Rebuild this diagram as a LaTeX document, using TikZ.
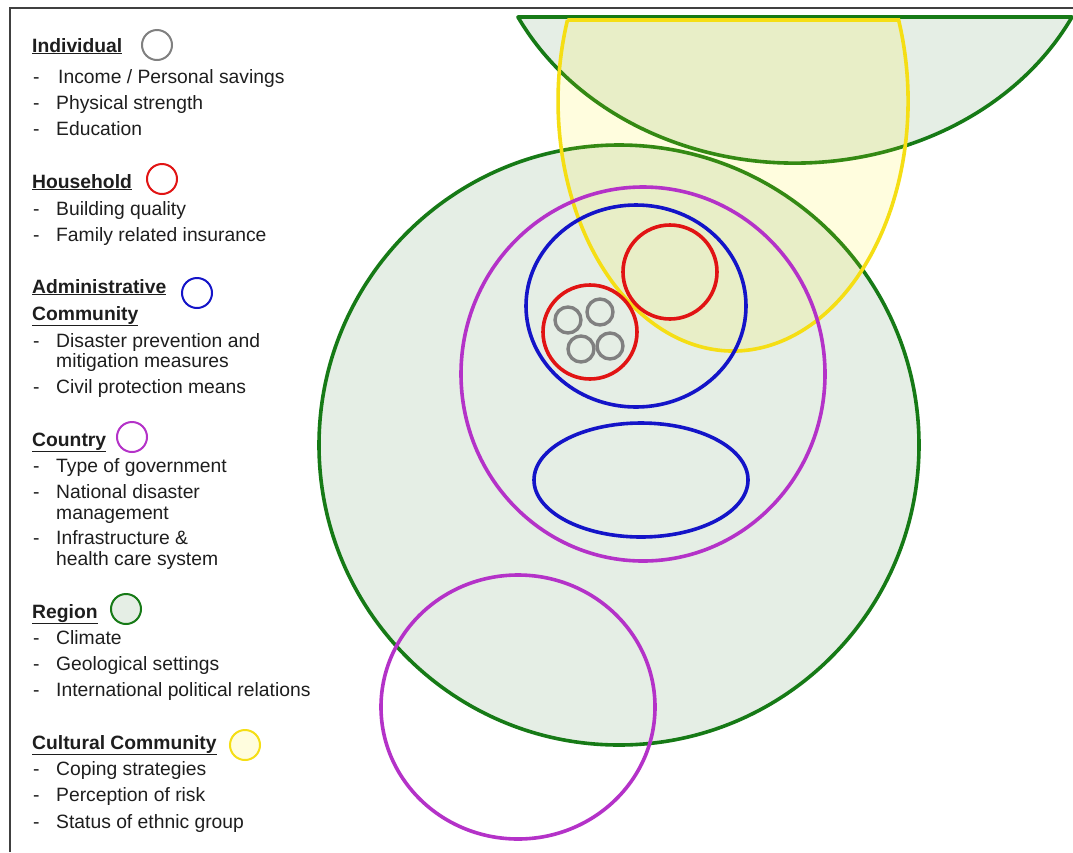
\documentclass[tikz,border=0pt]{standalone}
\usepackage{fontspec}
\setmainfont{Liberation Sans}
\definecolor{gstroke}{RGB}{22,122,22}
\definecolor{gfill}{RGB}{229,238,229}
\definecolor{ystroke}{RGB}{245,222,20}
\definecolor{yfill}{RGB}{255,240,0}
\definecolor{pur}{RGB}{180,50,200}
\definecolor{blu}{RGB}{20,20,200}
\definecolor{rd}{RGB}{225,20,20}
\definecolor{gry}{RGB}{128,128,128}
\definecolor{txt}{RGB}{30,30,30}
\tikzset{
  hdr/.style={anchor=base west, inner sep=0pt, font=\fontsize{19.3}{21}\selectfont\bfseries, text=txt},
  itm/.style={anchor=base west, inner sep=0pt, font=\fontsize{19.3}{21}\selectfont, text=txt},
  dsh/.style={anchor=base west, inner sep=0pt, font=\fontsize{19.3}{21}\selectfont, text=txt},
  ring/.style={line width=3.6pt},
  lring/.style={line width=2pt},
  indiv/.style={gry, line width=3.4pt},
}
\begin{document}
\begin{tikzpicture}[x=1pt,y=-1pt]
\useasboundingbox (0,0) rectangle (1073,852);
\fill[white] (0,0) rectangle (1073,852);
% frame
\draw[line width=1.6pt, black!75] (10,852) -- (10,8) -- (1073,8);
% big green circle (region)
\draw[ring, gstroke, fill=gfill] (619,445) circle (300);
% top green region (cut ellipse)
\draw[ring, gstroke, fill=gfill, line join=round] (518,17) -- (1072,17) arc[start angle=26.4, end angle=153.6, x radius=309.3, y radius=263] -- cycle;
% yellow cultural community
\draw[ring, ystroke, fill=yfill, fill opacity=0.13] (567.4,20) -- (898.6,20) arc[start angle=-18.9, end angle=198.9, x radius=175, y radius=250] -- cycle;
% purple country
\draw[ring, pur] (643,374) ellipse[x radius=182, y radius=187];
\draw[ring, pur] (518,707) ellipse[x radius=137, y radius=132];
% blue administrative communities
\draw[ring, blu] (636,306) ellipse[x radius=110, y radius=101];
\draw[ring, blu] (641,480) ellipse[x radius=107, y radius=57];
% red households
\draw[ring, rd] (670,272) circle (47);
\draw[ring, rd] (590,332) circle (47);
% gray individuals
\draw[indiv] (568,320) circle (13);
\draw[indiv] (600,312) circle (13);
\draw[indiv] (581,349) circle (13);
\draw[indiv] (610,346) circle (13);

% legend
\node[hdr] (h1) at (32,52) {\underline{Individual}};
\draw[lring, gry] (157,45) circle (15);
\node[dsh] (d1a) at (33,83) {-};
\node[itm] (i1a) at (58,83) {Income / Personal savings};
\node[dsh] (d1b) at (33,109) {-};
\node[itm] (i1b) at (56,109) {Physical strength};
\node[dsh] (d1c) at (33,135) {-};
\node[itm] (i1c) at (56,135) {Education};

\node[hdr] (h2) at (32,188) {\underline{Household}};
\draw[lring, rd] (162,179) circle (15);
\node[dsh] (d2a) at (33,215) {-};
\node[itm] (i2a) at (56,215) {Building quality};
\node[dsh] (d2b) at (33,241) {-};
\node[itm] (i2b) at (56,241) {Family related insurance};

\node[hdr] (h3) at (32,293) {\underline{Administrative}};
\node[hdr] (h3b) at (32,320) {\underline{Community}};
\draw[lring, blu] (197,293) circle (15);
\node[dsh] (d3a) at (33,347) {-};
\node[itm] (i3a) at (56,347) {Disaster prevention and};
\node[itm] (i3b) at (56,367) {mitigation measures};
\node[dsh] (d3c) at (33,393) {-};
\node[itm] (i3c) at (56,393) {Civil protection means};

\node[hdr] (h4) at (32,446) {\underline{Country}};
\draw[lring, pur] (132,437) circle (15);
\node[dsh] (d4a) at (33,472) {-};
\node[itm] (i4a) at (56,472) {Type of government};
\node[dsh] (d4b) at (33,498) {-};
\node[itm] (i4b) at (56,498) {National disaster};
\node[itm] (i4c) at (56,519) {management};
\node[dsh] (d4d) at (33,544) {-};
\node[itm] (i4d) at (56,544) {Infrastructure \&};
\node[itm] (i4e) at (56,565) {health care system};

\node[hdr] (h5) at (32,618) {\underline{Region}};
\draw[lring, gstroke, fill=gfill] (126,609) circle (15);
\node[dsh] (d5a) at (33,644) {-};
\node[itm] (i5a) at (56,644) {Climate};
\node[dsh] (d5b) at (33,670) {-};
\node[itm] (i5b) at (56,670) {Geological settings};
\node[dsh] (d5c) at (33,696) {-};
\node[itm] (i5c) at (56,696) {International political relations};

\node[hdr] (h6) at (32,749) {\underline{Cultural Community}};
\draw[lring, ystroke, fill=yfill, fill opacity=0.13] (245,745) circle (15);
\node[dsh] (d6a) at (33,775) {-};
\node[itm] (i6a) at (56,775) {Coping strategies};
\node[dsh] (d6b) at (33,801) {-};
\node[itm] (i6b) at (56,801) {Perception of risk};
\node[dsh] (d6c) at (33,828) {-};
\node[itm] (i6c) at (56,828) {Status of ethnic group};
\end{tikzpicture}
\end{document}
